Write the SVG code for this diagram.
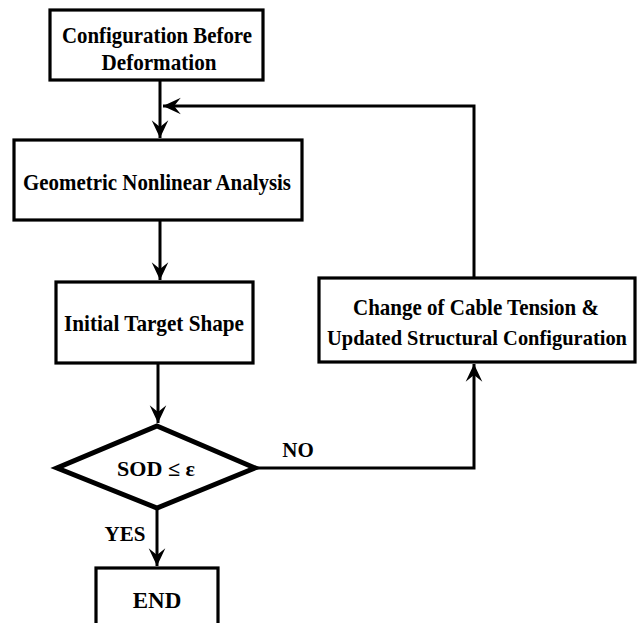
<svg xmlns="http://www.w3.org/2000/svg" width="640" height="623" viewBox="0 0 640 623">
<style>
.box{fill:#fff;stroke:#000;stroke-width:3.2}
.dia{fill:#fff;stroke:#000;stroke-width:5;stroke-linejoin:miter}
.t{font-family:"Liberation Serif","Times New Roman",serif;font-weight:bold;fill:#000;text-anchor:middle}
.big{font-size:23px}
.mid{font-size:21px}
.lbl{font-size:21px}
.c{fill:none;stroke:#000;stroke-width:3}
</style>
<defs>
<marker id="ah" markerUnits="userSpaceOnUse" markerWidth="20" markerHeight="20" refX="0" refY="0" viewBox="-17 -9 18 18" orient="auto">
<path d="M0,0 L-16,-7.5 L-10,0 L-16,7.5 Z" fill="#000"/>
</marker>
</defs>
<rect width="640" height="623" fill="#fff"/>
<g id="connectors">
<line class="c" x1="160" y1="80" x2="160" y2="138" marker-end="url(#ah)"/>
<polyline class="c" points="474,278 474,106 163,106" marker-end="url(#ah)"/>
<line class="c" x1="160" y1="220" x2="160" y2="280" marker-end="url(#ah)"/>
<line class="c" x1="158" y1="363" x2="158" y2="423" marker-end="url(#ah)"/>
<polyline class="c" points="255,468 474,468 474,364" marker-end="url(#ah)"/>
<line class="c" x1="157" y1="508" x2="157" y2="566" marker-end="url(#ah)"/>
<text class="t lbl" x="298" y="457">NO</text>
<text class="t lbl" x="125" y="541">YES</text>
</g>
<g id="n1">
<rect class="box" x="50" y="10" width="213" height="70"/>
<text class="t big" x="157" y="43" textLength="190" lengthAdjust="spacingAndGlyphs">Configuration Before</text>
<text class="t big" x="159" y="70" textLength="115" lengthAdjust="spacingAndGlyphs">Deformation</text>
</g>
<g id="n2">
<rect class="box" x="14" y="140" width="288" height="80"/>
<text class="t big" x="157" y="190" textLength="268" lengthAdjust="spacingAndGlyphs">Geometric Nonlinear Analysis</text>
</g>
<g id="n3">
<rect class="box" x="56" y="282" width="197" height="81"/>
<text class="t big" x="154" y="331" textLength="180" lengthAdjust="spacingAndGlyphs">Initial Target Shape</text>
</g>
<g id="n4">
<polygon class="dia" points="157,426 255,468 157,508 57,468"/>
<text class="t mid" x="156" y="476" textLength="78" lengthAdjust="spacingAndGlyphs">SOD ≤ ε</text>
</g>
<g id="n5">
<rect class="box" x="319" y="278" width="316" height="84"/>
<text class="t big" x="476" y="315" textLength="246" lengthAdjust="spacingAndGlyphs">Change of Cable Tension &amp;</text>
<text class="t mid" x="477" y="345" textLength="300" lengthAdjust="spacingAndGlyphs">Updated Structural Configuration</text>
</g>
<g id="n6">
<rect class="box" x="96" y="568" width="122" height="70"/>
<text class="t big" x="157" y="608">END</text>
</g>
</svg>
